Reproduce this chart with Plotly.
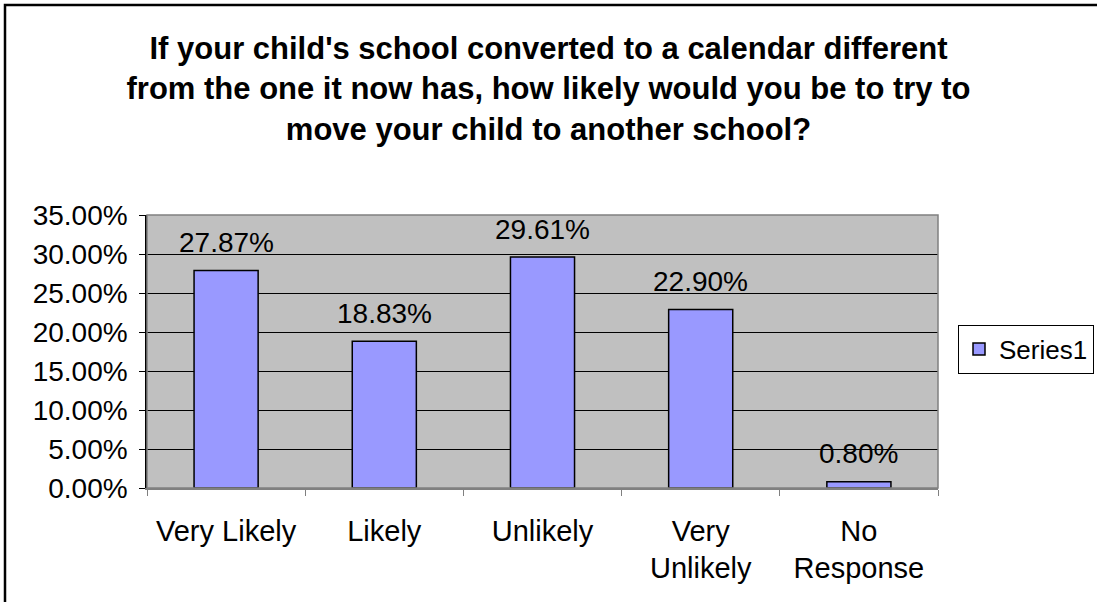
import plotly.graph_objects as go

# Survey responses (share of respondents)
categories = ["Very Likely", "Likely", "Unlikely", "Very<br>Unlikely", "No<br>Response"]
shares = [0.2787, 0.1883, 0.2961, 0.2290, 0.0080]
series_name = "Series1"
title_text = ("If your child's school converted to a calendar different<br>"
              "from the one it now has, how likely would you be to try to<br>"
              "move your child to another school?")

W, H = 1097, 602
ML, MR, MT, MB = 147, 159, 215, 114
PW, PH = W - ML - MR, H - MT - MB

FONT = "Liberation Sans, Arial, sans-serif"

fig = go.Figure()
fig.add_trace(go.Bar(
    x=categories,
    y=shares,
    name=series_name,
    marker=dict(color="#9999FF", line=dict(color="black", width=1.5)),
    width=0.405,
    showlegend=True,
))

# value labels above each bar
for c, v in zip(categories, shares):
    fig.add_annotation(
        x=c, y=v, xref="x", yref="y",
        text=f"{v*100:.2f}%",
        showarrow=False, yanchor="middle", yshift=28,
        font=dict(family=FONT, size=28, color="black"),
    )

# plot-area frame and outer chart border
fig.add_shape(type="rect", xref="paper", yref="paper", x0=0, x1=1, y0=0, y1=1,
              line=dict(color="#808080", width=1.5), layer="above")
px_x = lambda p: (p - ML) / PW
px_y = lambda p: (H - MB - p) / PH
fig.add_shape(type="rect", xref="paper", yref="paper",
              x0=px_x(5), x1=px_x(W + 20), y0=px_y(H + 20), y1=px_y(5),
              line=dict(color="black", width=2.5), layer="above")

fig.update_layout(
    width=W, height=H,
    margin=dict(l=ML, r=MR, t=MT, b=MB, pad=0, autoexpand=False),
    paper_bgcolor="white",
    plot_bgcolor="#C0C0C0",
    font=dict(family=FONT, color="black"),
    title=dict(
        text=title_text,
        x=(548.5 - ML) / PW, xref="paper", xanchor="center",
        y=1 - 59 / H, yref="container", yanchor="middle",
        font=dict(family=FONT, size=31, color="black", weight="bold"),
    ),
    legend=dict(
        x=px_x(958), y=px_y(349), xanchor="left", yanchor="middle",
        bordercolor="black", borderwidth=1, bgcolor="white",
        font=dict(family=FONT, size=26, color="black"),
        itemwidth=30,
    ),
    bargap=0.595,
)

fig.update_yaxes(
    range=[0, 0.35], dtick=0.05, tickformat=".2%",
    showgrid=True, gridcolor="black", gridwidth=1,
    showline=True, linecolor="black", linewidth=1.5,
    ticks="outside", ticklen=6, tickcolor="black",
    ticklabelstandoff=6,
    tickfont=dict(family=FONT, size=28, color="black"),
    zeroline=False,
)
fig.update_xaxes(
    tickson="boundaries",
    showline=True, linecolor="#808080", linewidth=1.5,
    ticks="outside", ticklen=6, tickcolor="#808080",
    ticklabelstandoff=16,
    tickfont=dict(family=FONT, size=29, color="black"),
    showgrid=False,
)

fig.write_html("out.html")
